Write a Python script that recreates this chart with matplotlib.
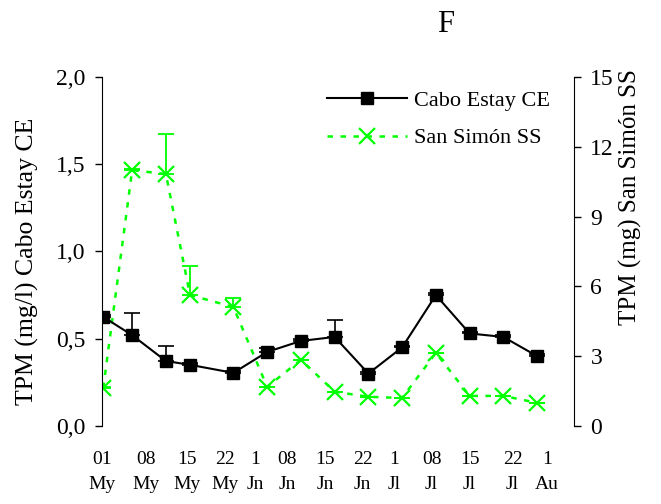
import matplotlib.pyplot as plt
from matplotlib.ticker import FuncFormatter, MultipleLocator

plt.rcParams['font.family'] = ['Liberation Serif', 'DejaVu Serif']

# sampling days counted from 1 May
days = [0, 6, 13, 18, 27, 34, 41, 48, 55, 62, 69, 76, 83, 90]

ce_tpm = [0.625, 0.52, 0.372, 0.35, 0.304, 0.424, 0.487, 0.51, 0.30, 0.45, 0.75, 0.53, 0.51, 0.40]
ce_err = [0.01, 0.13, 0.085, 0.01, 0.01, 0.02, 0.01, 0.10, 0.01, 0.01, 0.01, 0.01, 0.01, 0.01]

ss_tpm = [1.63, 11.0, 10.83, 5.63, 5.11, 1.68, 2.84, 1.47, 1.25, 1.2, 3.14, 1.29, 1.29, 0.99]
ss_err = [0.05, 0.05, 1.72, 1.25, 0.39, 0, 0, 0, 0, 0, 0, 0, 0, 0]

date_labels = ['01\nMy', '08\nMy', '15\nMy', '22\nMy', '1\nJn', '08\nJn', '15\nJn',
               '22\nJn', '1\nJl', '08\nJl', '15\nJl', '22\nJl', '1\nAu']
label_pos = [-0.3, 8.8, 17.3, 25.2, 31.6, 38.1, 46.0, 53.8, 60.3, 68.1, 76.0, 84.9, 92.0]

fig = plt.figure(figsize=(6.61, 5.04), dpi=100)
ax = fig.add_axes([0.154, 0.155, 0.714, 0.692])
ax2 = ax.twinx()

green = '#00ff00'
zeros = [0] * len(days)

ax2.errorbar(days, ss_tpm, yerr=[zeros, ss_err], fmt='none', ecolor=green,
             elinewidth=1.3, capsize=5.5, capthick=1.3, zorder=2)
l2, = ax2.plot(days, ss_tpm, color=green, lw=1.8, ls=(0, (2.2, 3.0)),
               marker='x', ms=11, mew=1.6, zorder=3, label='San Simón SS')

ax.set_zorder(ax2.get_zorder() + 1)
ax.patch.set_visible(False)
ax.errorbar(days, ce_tpm, yerr=[zeros, ce_err], fmt='none', ecolor='black',
            elinewidth=1.2, capsize=5.5, capthick=1.2, zorder=2)
l1, = ax.plot(days, ce_tpm, color='black', lw=1.5, marker='s', ms=8.5,
              zorder=3, label='Cabo Estay CE')

ax.set_xlim(-0.3, 97.6)
ax.set_ylim(0, 2.0)
ax2.set_ylim(0, 15)
ax.yaxis.set_major_locator(MultipleLocator(0.5))
ax2.yaxis.set_major_locator(MultipleLocator(3))
ax.yaxis.set_major_formatter(FuncFormatter(lambda v, p: f'{v:.1f}'.replace('.', ',')))

for a in (ax, ax2):
    a.spines['top'].set_visible(False)
    a.spines['bottom'].set_visible(False)
ax.spines['right'].set_visible(False)
ax2.spines['left'].set_visible(False)

ax.tick_params(axis='y', direction='out', length=5, width=1, pad=7, labelsize=17)
ax2.tick_params(axis='y', direction='out', length=5, width=1, pad=7, labelsize=17)

ax.set_xticks(label_pos)
ax.set_xticklabels(date_labels, fontsize=14, linespacing=1.6)
ax.tick_params(axis='x', length=0, pad=18)

fig.text(27 / 661, 1 - 261 / 504, 'TPM (mg/l) Cabo Estay CE', rotation=90,
         ha='center', va='center', fontsize=18.5)
fig.text(630 / 661, 1 - 197 / 504, 'TPM (mg) San Simón SS', rotation=90,
         ha='center', va='center', fontsize=18)
fig.text(446 / 661, 1 - 25 / 504, 'F', ha='center', va='center', fontsize=22)

ax.legend(handles=[l1, l2], loc='upper left', bbox_to_anchor=(327 / 661, 1 - 90 / 504),
          bbox_transform=fig.transFigure, frameon=False, fontsize=16,
          handlelength=3.6, handletextpad=0.3, labelspacing=0.78,
          borderpad=0, borderaxespad=0)

fig.savefig('out.png', dpi=100)
